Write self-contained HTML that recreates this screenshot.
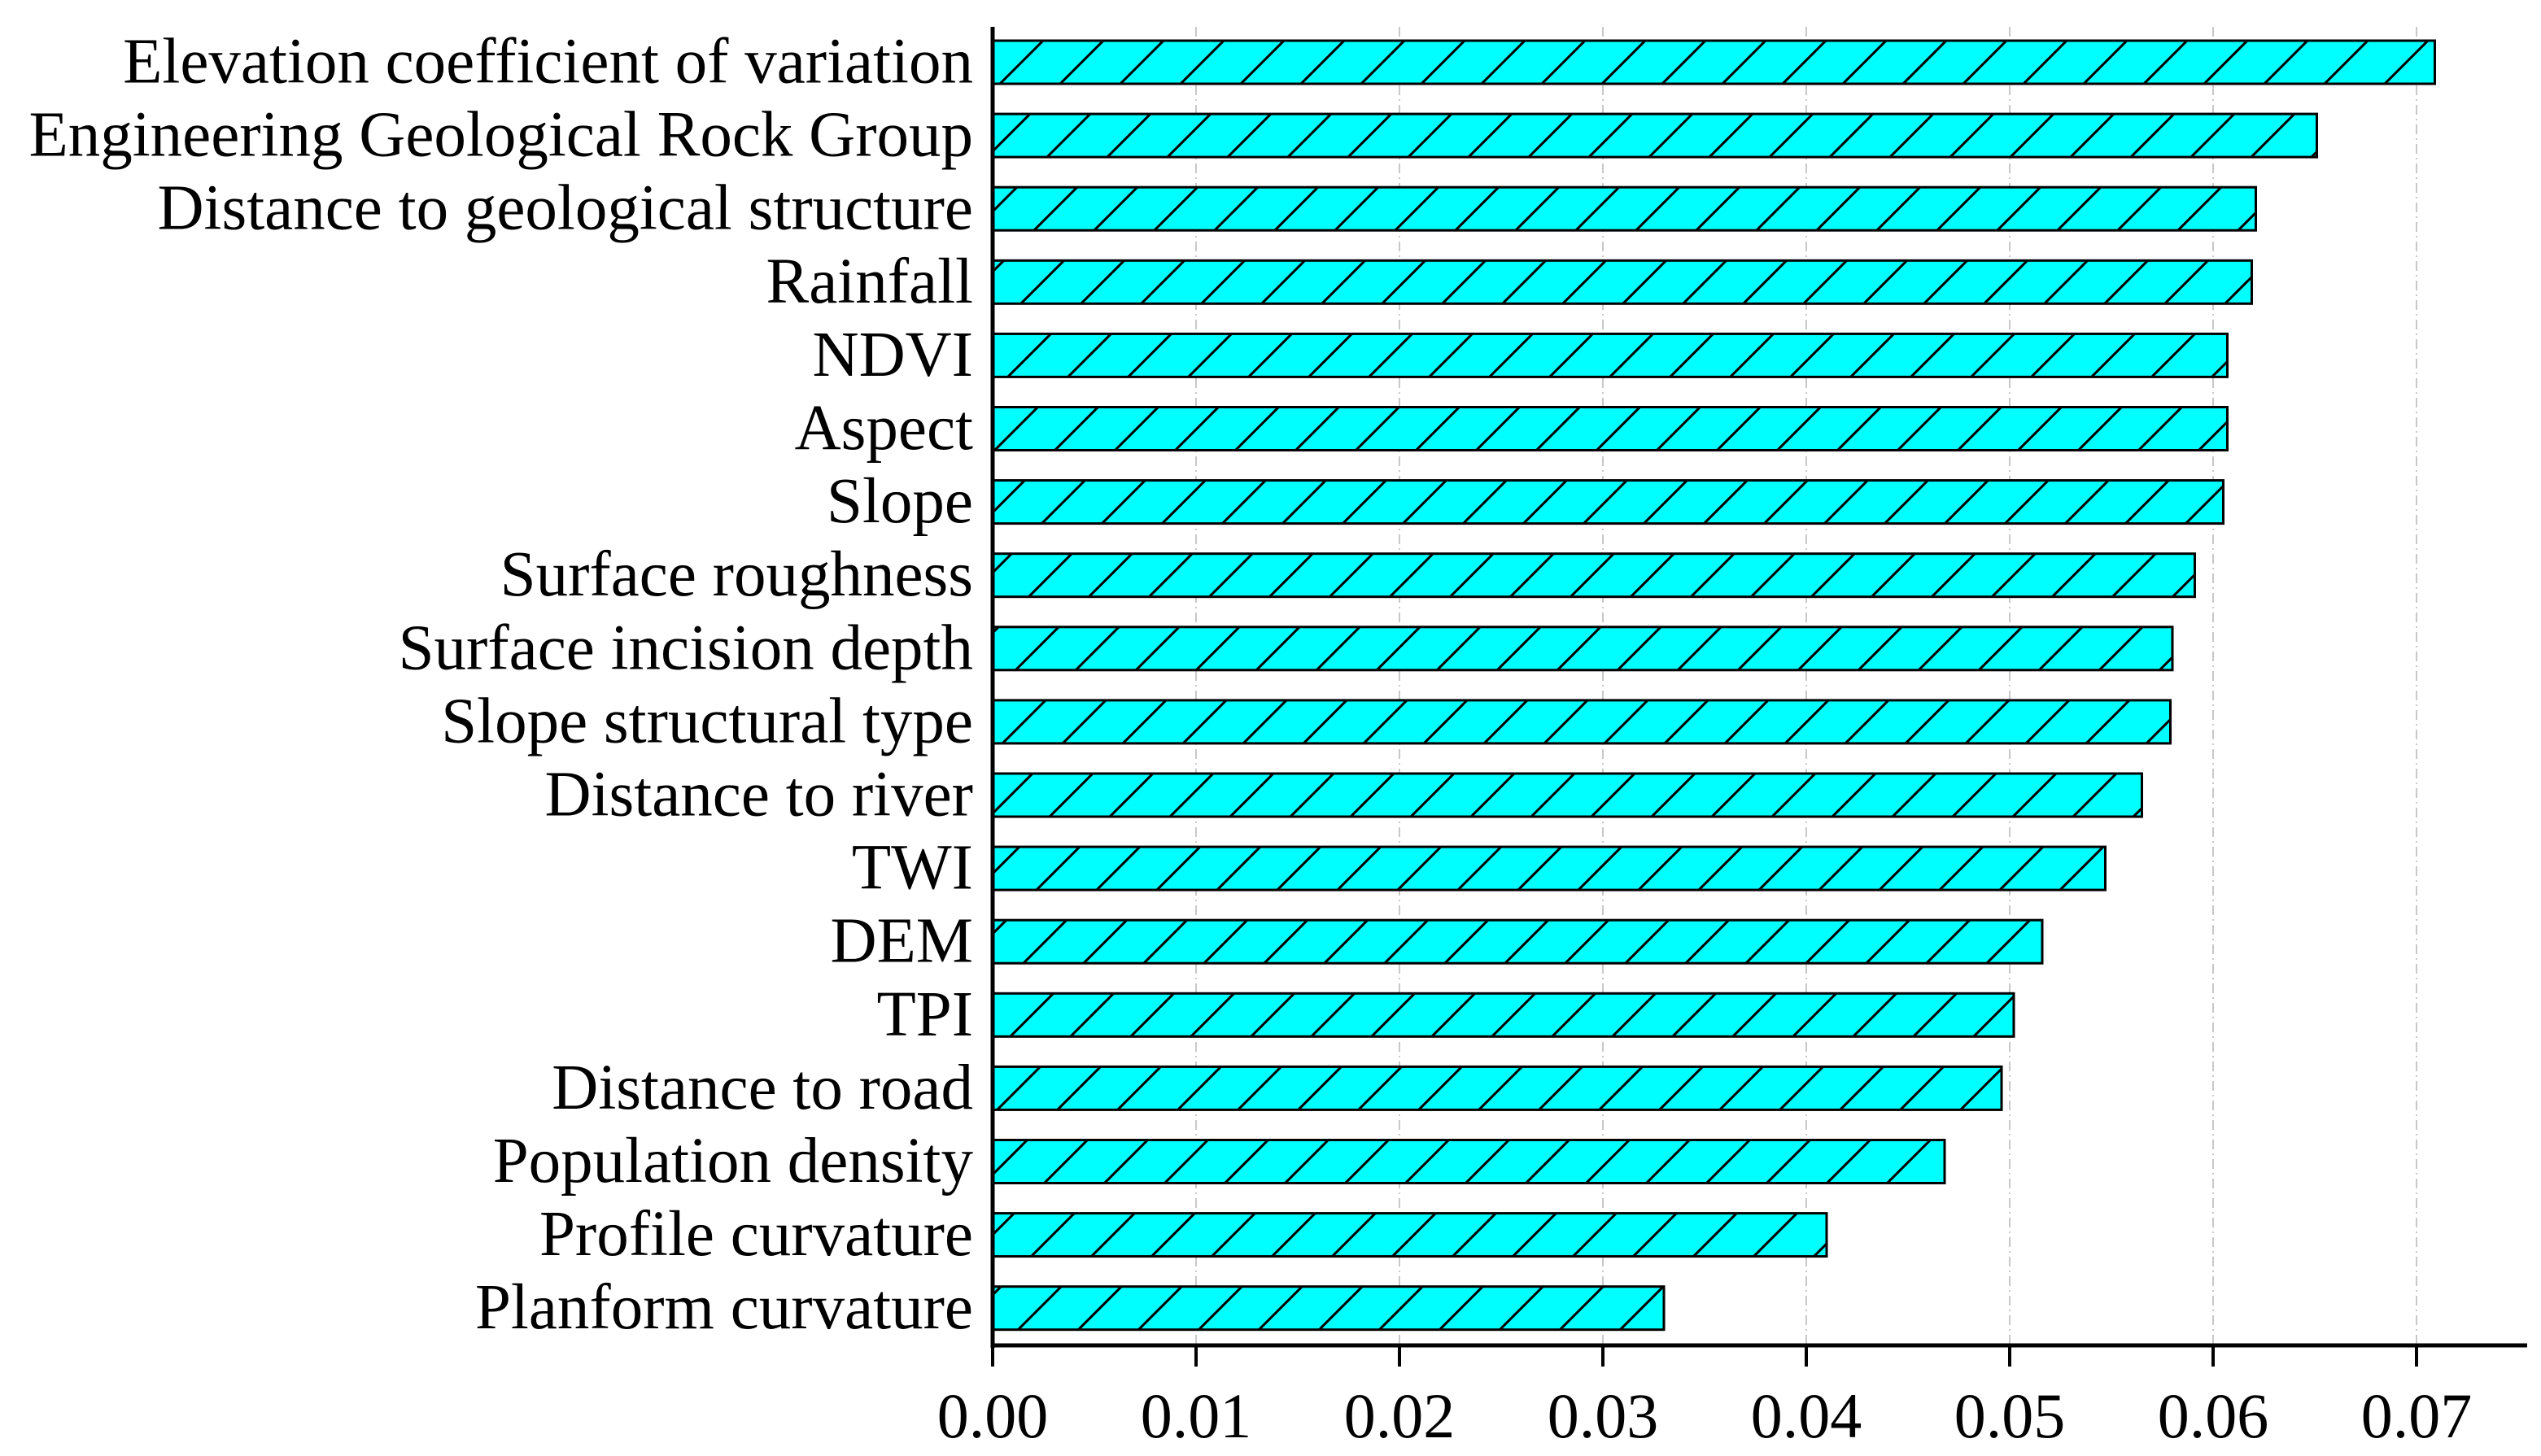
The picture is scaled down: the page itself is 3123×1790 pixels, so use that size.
<!DOCTYPE html>
<html><head><meta charset="utf-8"><style>html,body{margin:0;padding:0;background:#fff}svg{display:block}</style></head>
<body>
<svg id="chart" width="3123" height="1790" viewBox="0 0 3123 1790" xmlns="http://www.w3.org/2000/svg">
<defs>
<pattern id="hatch" patternUnits="userSpaceOnUse" width="74" height="74">
<path d="M-10,84 L84,-10 M-84,84 L10,-10 M64,84 L158,-10" stroke="#000" stroke-width="3"/>
</pattern>
</defs>
<g id="grid"></g><g id="bars"></g><g id="labels"></g><g id="axes"></g>
</svg>
<script>
const categories = ["Elevation coefficient of variation","Engineering Geological Rock Group","Distance to geological structure","Rainfall","NDVI","Aspect","Slope","Surface roughness","Surface incision depth","Slope structural type","Distance to river","TWI","DEM","TPI","Distance to road","Population density","Profile curvature","Planform curvature"];
const values = [0.0709,0.0651,0.0621,0.0619,0.0607,0.0607,0.0605,0.0591,0.0580,0.0579,0.0565,0.0547,0.0516,0.0502,0.0496,0.0468,0.0410,0.0330];
const ticks = [0,0.01,0.02,0.03,0.04,0.05,0.06,0.07];
const tickLabels = ["0.00","0.01","0.02","0.03","0.04","0.05","0.06","0.07"];

const NS="http://www.w3.org/2000/svg";
const x0=1220, pxPer=25000, axisTop=33, axisBottom=1654, barTop0=50, pitch=90.1, barH=53;
const xs=v=>x0+v*pxPer;
const yb=i=>barTop0+i*pitch;
function mk(tag,attrs,parent){const e=document.createElementNS(NS,tag);for(const k in attrs)e.setAttribute(k,attrs[k]);parent.appendChild(e);return e;}
const gG=document.getElementById('grid'),gB=document.getElementById('bars'),gL=document.getElementById('labels'),gA=document.getElementById('axes');
ticks.forEach((t,i)=>{if(i===0)return;
 const ln=mk('line',{x1:xs(t),x2:xs(t),y1:axisTop,y2:axisBottom,stroke:'#c8c8c8','stroke-width':2,'stroke-dasharray':'12,5,2,5'},gG);
 
 });
categories.forEach((c,i)=>{
 const y=yb(i),w=xs(values[i])-x0;
 const r1=mk('rect',{x:x0,y:y,width:w,height:barH,fill:'#00ffff'},gB);
 
 
 const r=mk('rect',{x:x0,y:y,width:w,height:barH,fill:'url(#hatch)',stroke:'#000','stroke-width':3},gB);
 
 
 const t=mk('text',{x:1196,y:y+barH/2+25,'text-anchor':'end','font-family':'"Liberation Serif",serif','font-size':79,fill:'#000'},gL);
 t.textContent=c;
 
 
});
const ya=mk('line',{x1:x0,x2:x0,y1:axisTop,y2:axisBottom+3,stroke:'#000','stroke-width':5},gA);


const xa=mk('line',{x1:x0-2,x2:3106,y1:axisBottom,y2:axisBottom,stroke:'#000','stroke-width':5},gA);


ticks.forEach((t,i)=>{
 const tk=mk('line',{x1:xs(t),x2:xs(t),y1:axisBottom,y2:1680,stroke:'#000','stroke-width':4},gA);
 
 
 const tl=mk('text',{x:xs(t),y:1767,'text-anchor':'middle','font-family':'"Liberation Serif",serif','font-size':78,fill:'#000'},gA);
 tl.textContent=tickLabels[i];
 
 
});
</script>
</body></html>
